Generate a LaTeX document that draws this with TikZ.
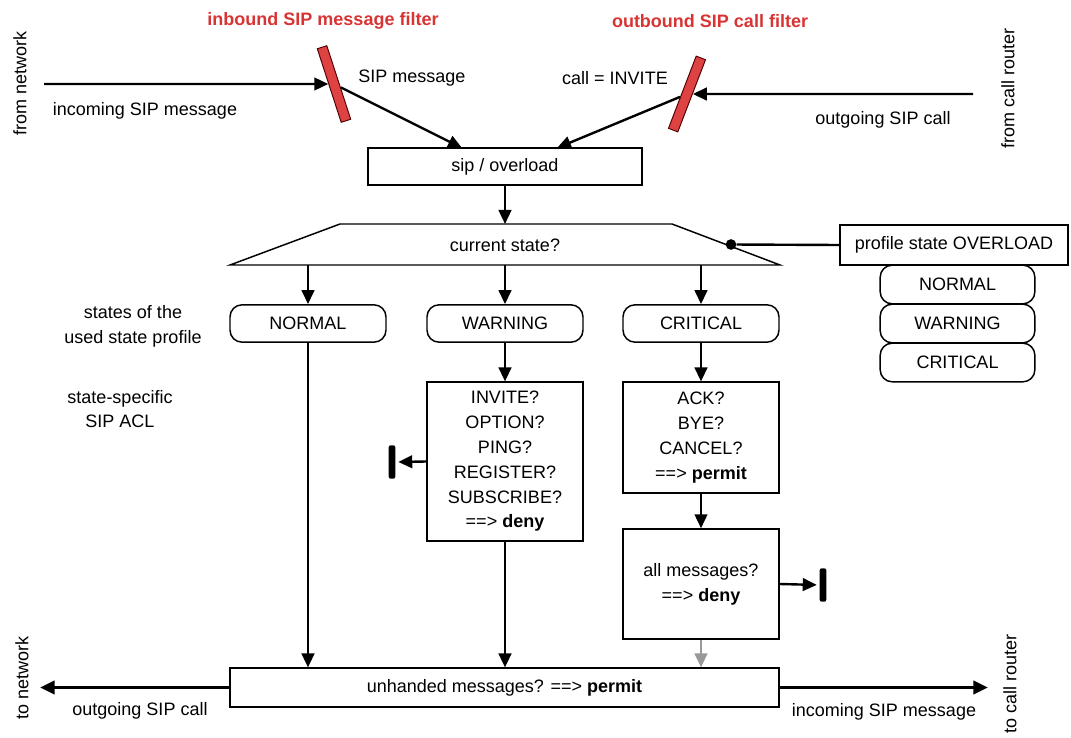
\documentclass[tikz,border=0pt]{standalone}
\usepackage{fontspec}
\setmainfont{Liberation Sans}
\usetikzlibrary{arrows.meta,calc}
\definecolor{filt}{RGB}{222,66,66}
\definecolor{filttxt}{RGB}{216,52,52}
\begin{document}
\begin{tikzpicture}[x=0.75pt,y=-0.75pt,
  font=\fontsize{13.5}{18.6}\selectfont,
  box/.style={draw, line width=1.1pt, rectangle, inner sep=0pt, align=center},
  statebox/.style={draw, line width=1.1pt, rounded corners=9pt, inner sep=0pt, minimum width=117pt, minimum height=28pt},
  arr/.style={line width=1.8pt, -{Triangle[length=10.5pt,width=9.5pt]}},
  bigarr/.style={line width=2.4pt, -{Triangle[length=11pt,width=10pt]}},
  plain/.style={line width=1.8pt},
  filterbar/.style={draw=black!70!red, line width=0.7pt, fill=filt, minimum width=7.5pt, minimum height=58pt, inner sep=0pt},
  stopbar/.style={fill=black, rounded corners=1.5pt, minimum width=5pt, minimum height=25pt, inner sep=0pt},
  lbl/.style={inner sep=1pt, align=center},
  redlbl/.style={inner sep=1pt, text=filttxt, font=\fontsize{13.5}{18.6}\selectfont\bfseries}
]
\useasboundingbox (0,0) rectangle (1071,738);

% side labels
\node[lbl, rotate=90] (fromnet) at (20,83) {from network};
\node[lbl, rotate=90] (fromcr) at (1008,88) {from call router};
\node[lbl, rotate=90] (tonet) at (22,678) {to network};
\node[lbl, rotate=90] (tocr) at (1010,684) {to call router};

% filters
\node[redlbl] (inflt) at (323,21) {inbound SIP message filter};
\node[redlbl] (outflt) at (710,21) {outbound SIP call filter};
\node[filterbar, rotate=18] (inbar) at (334,84) {};
\node[filterbar, rotate=-21] (outbar) at (687,94) {};

\node[lbl] (inmsg) at (145,111) {incoming SIP message};
\node[lbl] (sipmsg) at (412,78) {SIP message};
\node[lbl] (callinv) at (615,78) {call = INVITE};
\node[lbl] (outcall) at (883,120) {outgoing SIP call};

% sip/overload
\node[box, minimum width=205.5pt, minimum height=28pt] (sip) at (505,166.5) {sip / overload};

\coordinate (innet) at (44,84);
\coordinate (incr) at (973,94);
\coordinate (sipinA) at (462,148);
\coordinate (sipinB) at (557,148);
\draw[arr] (innet) -- (inbar);
\draw[arr] (inbar) -- (sipinA);
\draw[arr] (incr) -- (outbar);
\draw[arr] (outbar) -- (sipinB);

% current state trapezium
\coordinate (tzTL) at (340,224);
\coordinate (tzTR) at (672,224);
\coordinate (tzBR) at (780,265);
\coordinate (tzBL) at (230,265);
\draw[line width=1.1pt] (tzTL) -- (tzTR) -- (tzBR) -- (tzBL) -- cycle;
\node[lbl] (cs) at (505,245) {current state?};
\coordinate (csTop) at (505,224);
\draw[arr] (sip.south) -- (csTop);

% profile
\node[box, minimum width=171pt, minimum height=30pt] (profile) at (954,245) {profile state OVERLOAD};
\node[statebox, minimum width=116pt, minimum height=29pt] (pnormal) at (957.5,284.5) {NORMAL};
\node[statebox, minimum width=116pt, minimum height=29pt] (pwarning) at (957.5,323.5) {WARNING};
\node[statebox, minimum width=116pt, minimum height=29pt] (pcritical) at (957.5,362.5) {CRITICAL};
\node[circle, fill=black, inner sep=0pt, minimum size=8pt] (dot) at (731,244.5) {};
\draw[plain] (dot) -- (profile.west);

% states
\node[statebox] (normal) at (308,323.5) {NORMAL};
\node[statebox] (warning) at (505,323.5) {WARNING};
\node[statebox] (critical) at (701,323.5) {CRITICAL};
\coordinate (csN) at (308,265);
\coordinate (csW) at (505,265);
\coordinate (csC) at (701,265);
\draw[arr] (csN) -- (normal);
\draw[arr] (csW) -- (warning);
\draw[arr] (csC) -- (critical);

\node[lbl] (statesof) at (133,326) {states of the\\used state profile};
\node[lbl] (ssacl) at (120,409) {state-specific\\SIP ACL};

% ACLs
\node[box, minimum width=117pt, minimum height=119pt] (warnacl) at (505,461.5)
  {INVITE?\\OPTION?\\PING?\\REGISTER?\\SUBSCRIBE?\\==> \textbf{deny}};
\node[box, minimum width=117pt, minimum height=83pt] (critacl) at (701,437.5)
  {ACK?\\BYE?\\CANCEL?\\==> \textbf{permit}};
\node[box, minimum width=117pt, minimum height=82.5pt] (allmsg) at (701,584)
  {all messages?\\==> \textbf{deny}};
\draw[arr] (warning) -- (warnacl);
\draw[arr] (critical) -- (critacl);
\draw[arr] (critacl) -- (allmsg);

\node[stopbar] (stop1) at (392,462) {};
\node[stopbar] (stop2) at (823,585) {};
\draw[arr, shorten >=2pt] (warnacl.west) -- (stop1.east);
\draw[arr, shorten >=2pt] (allmsg.east) -- (stop2.west);

% bottom
\node[box, minimum width=412pt, minimum height=29pt] (bottom) at (504.5,687.5)
  {unhanded messages? ==> \textbf{permit}};
\draw[arr] (normal) -- (normal |- bottom.north);
\draw[arr] (warnacl) -- (warnacl |- bottom.north);
\draw[arr, draw=black!40, -{Triangle[length=10.5pt,width=9.5pt,fill=black!40]}] (allmsg) -- (allmsg |- bottom.north);

\coordinate (outL) at (40,687.5);
\coordinate (outR) at (988,687.5);
\draw[bigarr] (bottom.west) -- (outL);
\draw[bigarr] (bottom.east) -- (outR);
\node[lbl] (outcall2) at (140,711) {outgoing SIP call};
\node[lbl] (inmsg2) at (884,712) {incoming SIP message};
\end{tikzpicture}
\end{document}
